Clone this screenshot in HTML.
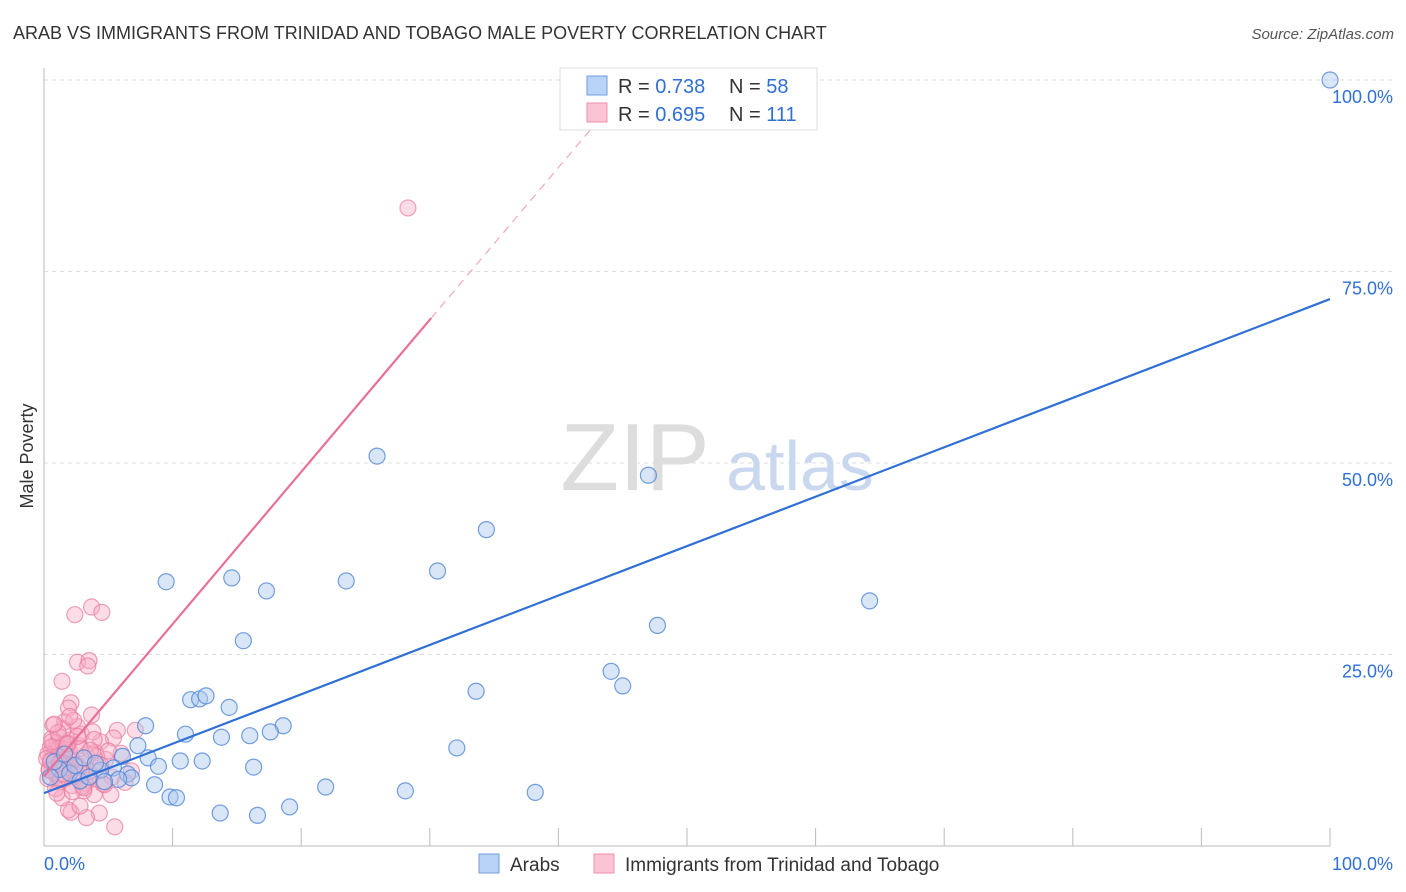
<!DOCTYPE html>
<html><head><meta charset="utf-8">
<style>
body{margin:0;background:#fff;font-family:"Liberation Sans",sans-serif;}
#wrap{position:relative;width:1406px;height:892px;overflow:hidden;}
svg text{font-family:"Liberation Sans",sans-serif;}
</style></head>
<body>
<div id="wrap">
<svg id="chart" width="1406" height="892">
  <text x="13" y="39" font-size="18" fill="#333">ARAB VS IMMIGRANTS FROM TRINIDAD AND TOBAGO MALE POVERTY CORRELATION CHART</text>
  <text x="1394" y="39" font-size="15" fill="#555" font-style="italic" text-anchor="end">Source: ZipAtlas.com</text>
  <text transform="translate(33,456) rotate(-90)" font-size="18" fill="#333" text-anchor="middle">Male Poverty</text>
  <g id="grid"></g>
  <g>
    <text x="635" y="490" font-size="96" fill="#ddd" font-family="Liberation Serif" text-anchor="middle">ZIP</text>
    <text x="800" y="490" font-size="70" fill="#c9d8ef" text-anchor="middle">atlas</text>
  </g>
  <g id="marks"></g>
  <g>
    <rect x="560" y="68" width="257" height="62" fill="#fff" stroke="#ddd"/>
    <rect x="587" y="76" width="20" height="19" fill="#b8d3f5" stroke="#6f9de0"/>
    <rect x="587" y="103" width="20" height="19" fill="#fbc4d4" stroke="#ef8fac"/>
    <text x="618" y="93" font-size="20" fill="#333">R = <tspan fill="#2f6fd6">0.738</tspan></text>
    <text x="729" y="93" font-size="20" fill="#333">N = <tspan fill="#2f6fd6">58</tspan></text>
    <text x="618" y="121" font-size="20" fill="#333">R = <tspan fill="#2f6fd6">0.695</tspan></text>
    <text x="729" y="121" font-size="20" fill="#333">N = <tspan fill="#2f6fd6">111</tspan></text>
  </g>
  <g>
    <rect x="479" y="854" width="20" height="19" fill="#b8d3f5" stroke="#6f9de0"/>
    <text x="510" y="871" font-size="19" fill="#333">Arabs</text>
    <rect x="594" y="854" width="20" height="19" fill="#fbc4d4" stroke="#ef8fac"/>
    <text x="625" y="871" font-size="19" fill="#333">Immigrants from Trinidad and Tobago</text>
  </g>
</svg>
</div>
<script>
const yTicks=[25,50,75,100];
const yTickLabels=["25.0%","50.0%","75.0%","100.0%"];
const xTickCount=[0,10,20,30,40,50,60,70,80,90,100];
const arabX=[100,25.9,47.0,34.4,30.6,9.5,14.6,23.5,17.3,64.2,47.7,15.5,44.1,45.0,33.6,11.4,12.1,12.6,14.4,7.9,18.6,17.6,11.0,13.8,16.0,7.3,32.1,6.1,8.1,10.6,12.3,8.9,16.3,5.4,4.4,6.5,6.8,5.8,4.7,8.6,21.9,28.1,38.2,9.8,10.3,19.1,13.7,16.6,1.2,2.0,2.8,3.5,0.8,1.6,2.4,3.1,0.5,4.0];
const arabY=[100,50.9,48.4,41.3,35.9,34.5,35.0,34.6,33.3,32.0,28.8,26.8,22.8,20.9,20.2,19.1,19.2,19.6,18.1,15.7,15.7,14.9,14.6,14.2,14.4,13.1,12.8,11.7,11.5,11.1,11.1,10.4,10.3,10.2,9.9,9.4,8.9,8.7,8.4,8.0,7.7,7.2,7.0,6.4,6.3,5.1,4.3,4.0,10,9.5,8.5,9.0,11,12,10.5,11.5,9,10.8];
const trinX=[28.3,2.4,3.7,4.5,2.6,3.5,3.4,1.4,2.1,1.9,1.6,3.7,7.1,5.7,5.4,4.4,5.5,4.3,2.1,1.9,3.3,2.8,1.4,5.2,6.8,3.9,
0.3,0.5,0.7,0.9,1.1,1.3,1.5,1.7,0.4,0.6,0.8,1.0,1.2,1.4,1.6,1.8,2.0,0.3,0.6,0.9,1.2,1.5,1.8,2.1,2.4,0.5,1.0,1.5,2.0,2.5,0.2,0.7,1.2,1.7,2.2,2.7,3.0,3.3,3.6,4.0,2.9,3.2,0.4,0.9,1.4,1.9,2.4,2.8,3.4,4.2,4.8,5.3,6.0,2.6,3.1,3.8,4.6,0.6,1.1,1.6,2.3,3.0,3.5,4.1,1.3,2.0,2.7,0.8,1.5,5.0,6.3,2.2,3.9,4.4,1.0,2.6,3.1,0.5,1.8,2.9,4.7,1.2,3.6];
const trinY=[83.3,30.2,31.2,30.5,24.0,24.2,23.5,21.5,18.7,18.0,16.2,17.1,15.1,15.1,14.1,13.6,2.5,4.3,4.4,4.7,3.7,5.2,6.3,6.7,9.8,6.7,
12,11,13,12.5,11.5,10.5,12,11,10,14,9.5,13.5,12.8,11.8,10.8,9.8,12.3,8.8,11.2,10.2,14.2,13.2,8.9,11.6,10.6,12.9,9.2,15.3,13.8,9.6,11.4,15.8,8.4,12.6,7.9,13.1,10.4,11.9,9.1,12.2,14.6,8.2,9.9,7.5,10.9,13.4,9.3,12.7,8.6,10.7,11.3,9.0,12.1,15.6,7.2,14.9,8.1,13.6,14.8,10.1,16.4,7.8,9.7,11.7,8.7,16.9,10.3,15.9,9.4,12.4,8.3,7.1,13.9,10.6,6.9,14.3,7.6,11.1,13.3,9.5,8.0,10.8,12.5,7.4];
const blueFit=[6.9,71.4];
const pinkFit=[9.1,68.9,30.1];

const NS="http://www.w3.org/2000/svg";
const X0=44,X1=1330,Y0=846,Y100=80;
const sx=v=>X0+(X1-X0)*v/100;
const sy=v=>Y0-(Y0-Y100)*v/100;
function mk(tag,attrs,parent){const e=document.createElementNS(NS,tag);for(const k in attrs)e.setAttribute(k,attrs[k]);parent.appendChild(e);return e;}
const grid=document.getElementById('grid');
const marks=document.getElementById('marks');
yTicks.forEach((t,i)=>{
  const l=mk('line',{x1:X0,x2:1395,y1:sy(t),y2:sy(t),stroke:'#ddd','stroke-dasharray':'4,4'},grid);
  
  
  const tx=mk('text',{x:1393,y:sy(t)+23,'font-size':18,fill:'#2f6fd6','text-anchor':'end'},grid);
  tx.textContent=yTickLabels[i];
  
  
});
const ax=mk('line',{x1:X0,x2:X0,y1:68,y2:Y0,stroke:'#bbb'},grid);


const bx=mk('line',{x1:X0,x2:X1,y1:Y0,y2:Y0,stroke:'#bbb'},grid);


xTickCount.forEach(t=>{
  const l=mk('line',{x1:sx(t),x2:sx(t),y1:828,y2:Y0,stroke:'#bbb'},grid);
  
  
});
const xl0=mk('text',{x:44,y:870,'font-size':18,fill:'#2f6fd6'},grid);xl0.textContent='0.0%';


const xl1=mk('text',{x:1393,y:870,'font-size':18,fill:'#2f6fd6','text-anchor':'end'},grid);xl1.textContent='100.0%';



trinX.forEach((x,i)=>{
  const c=mk('circle',{cx:sx(x),cy:sy(trinY[i]),r:8,fill:'rgba(248,170,195,0.4)',stroke:'rgba(232,120,158,0.7)','stroke-width':1.2},marks);
  
  
});
arabX.forEach((x,i)=>{
  const c=mk('circle',{cx:sx(x),cy:sy(arabY[i]),r:8,fill:'rgba(170,200,240,0.45)',stroke:'rgba(80,135,215,0.8)','stroke-width':1.2},marks);
  
  
});
const bl=mk('line',{x1:sx(0),y1:sy(blueFit[0]),x2:sx(100),y2:sy(blueFit[1]),stroke:'#2f6fd6','stroke-width':2.2},marks);


const slope=(pinkFit[1]-pinkFit[0])/pinkFit[2];
const pl=mk('line',{x1:sx(0),y1:sy(pinkFit[0]),x2:sx(pinkFit[2]),y2:sy(pinkFit[1]),stroke:'#e8709a','stroke-width':2.2},marks);


const xe=(95-pinkFit[0])/slope;
const pd=mk('line',{x1:sx(pinkFit[2]),y1:sy(pinkFit[1]),x2:sx(xe),y2:sy(95),stroke:'#f0a8c0','stroke-width':1.2,'stroke-dasharray':'8,6'},marks);


</script>
</body></html>
